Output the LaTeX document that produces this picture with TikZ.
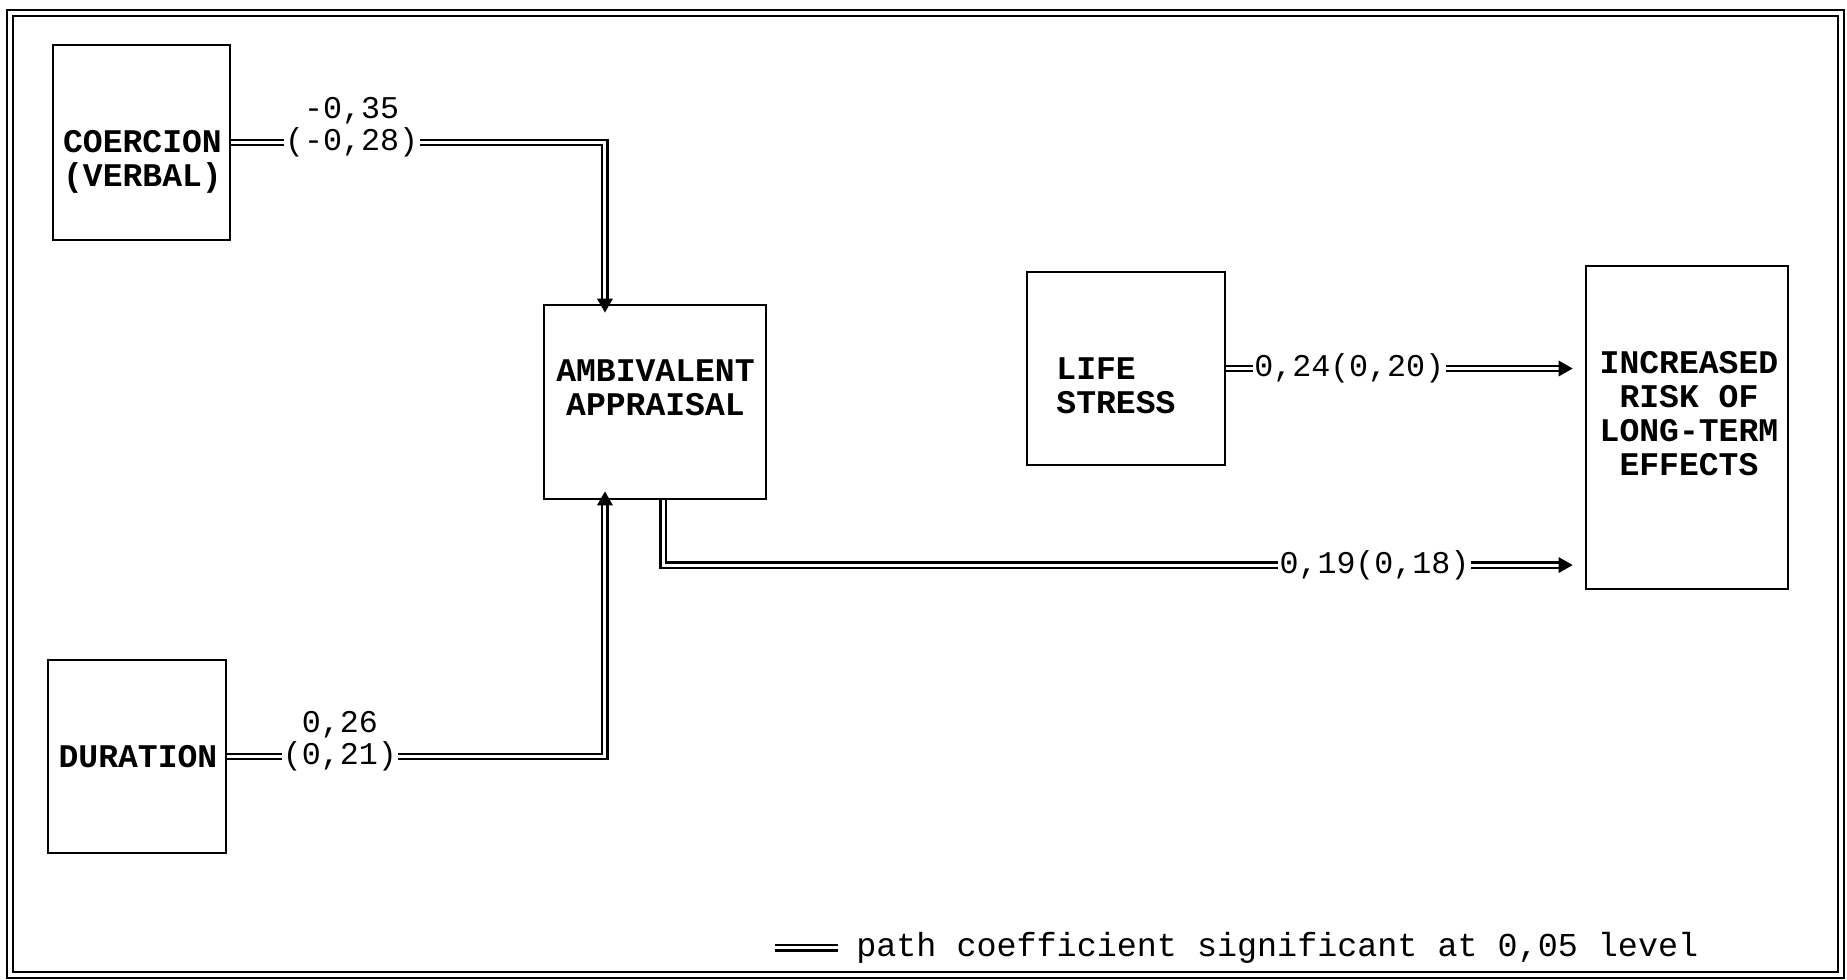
\documentclass[tikz,border=0pt]{standalone}
\usepackage{fontspec}
\setmonofont{Liberation Mono}
\usetikzlibrary{arrows.meta,positioning,calc}
\tikzset{
  vbox/.style={draw,line width=0.75pt,inner sep=0pt},
  vtext/.style={font=\fontsize{9.4}{9.6}\selectfont\ttfamily\bfseries,align=center,inner sep=0pt},
  coef/.style={font=\fontsize{9}{10}\selectfont\ttfamily,fill=white,inner xsep=0.4pt,inner ysep=1pt},
  coefup/.style={font=\fontsize{9}{10}\selectfont\ttfamily,inner sep=0.5pt},
  dline/.style={double,double distance=0.85pt,line width=0.6pt},
  darr/.style={dline,-{Triangle[length=4pt,width=4.4pt]}},
  keytext/.style={font=\fontsize{9.5}{11}\selectfont\ttfamily,inner xsep=5pt,inner ysep=0pt},
}
\begin{document}
\begin{tikzpicture}[x=0.01cm,y=-0.01cm]
  \useasboundingbox (0,0) rectangle (1847,980);
  \draw[double,double distance=0.9pt,line width=0.65pt] (10,13) rectangle (1841,975);

  % variables
  \node[vbox,minimum width=1.77cm,minimum height=1.95cm] (coer) at (141.5,142.5) {};
  \node[vbox,minimum width=1.78cm,minimum height=1.93cm] (dur)  at (137,756.5) {};
  \node[vbox,minimum width=2.22cm,minimum height=1.94cm] (amb)  at (655,402) {};
  \node[vbox,minimum width=1.98cm,minimum height=1.93cm] (life) at (1126,368.5) {};
  \node[vbox,minimum width=2.02cm,minimum height=3.23cm] (incr) at (1687,427.5) {};

  \node[vtext] (coer-t) at (142.5,162) {COERCION\\(VERBAL)};
  \node[vtext] (dur-t)  at (138,757)   {DURATION};
  \node[vtext] (amb-t)  at (655.5,388) {AMBIVALENT\\APPRAISAL};
  \node[vtext,align=left] (life-t) at (1116,386) {LIFE\\STRESS};
  \node[vtext] (incr-t) at (1689,413.5) {INCREASED\\RISK OF\\LONG-TERM\\EFFECTS};

  % paths
  \coordinate (ain1) at ([xshift=-0.5cm,yshift=-0.09cm]amb.north);
  \coordinate (ain2) at ([xshift=-0.5cm,yshift=0.09cm]amb.south);

  \draw[darr] (coer.east) -| node[coef,pos=0.161,label={[coefup,label distance=-1pt]above:-0,35}] {(-0,28)} (ain1);
  \draw[darr] (dur.east)  -| node[coef,pos=0.149,label={[coefup,label distance=-1pt]above:0,26}] {(0,21)} (ain2);
  \draw[darr,shorten >=3.4pt] (life.east) -- node[coef,pos=0.343] {0,24(0,20)} (life.east -| incr.west);
  \draw[darr,shorten >=3.4pt] ([xshift=0.08cm]amb.south) |- node[coef,pos=0.886] {0,19(0,18)} ([yshift=-1.375cm]incr.west);

  % key
  \coordinate (key) at (775,948);
  \node[keytext,anchor=west] (keylab) at (838,948) {path coefficient significant at 0,05 level};
  \draw[dline] (key) -- (keylab.west);
\end{tikzpicture}
\end{document}
